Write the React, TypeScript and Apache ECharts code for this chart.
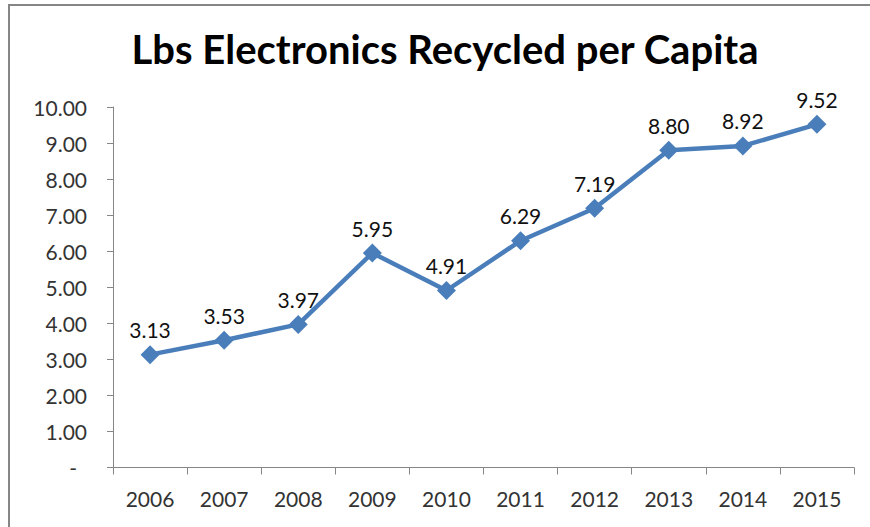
import React, { useEffect, useRef } from "react";
import * as echarts from "echarts";

const TITLE = "Lbs Electronics Recycled per Capita";
const years = ["2006", "2007", "2008", "2009", "2010", "2011", "2012", "2013", "2014", "2015"];
const lbsPerCapita = [3.13, 3.53, 3.97, 5.95, 4.91, 6.29, 7.19, 8.8, 8.92, 9.52];
const yMin = 0;
const yMax = 10;
const yStep = 1;

const FONT = "Lato, 'Noto Sans', sans-serif";
const BLUE = "#4A7EBB";
const GRAY = "#868686";

export default function App() {
  const ref = useRef<HTMLDivElement>(null);
  useEffect(() => {
    if (!ref.current) return;
    const chart = echarts.init(ref.current, null, { renderer: "svg" });
    chart.setOption({
      animation: false,
      backgroundColor: "#ffffff",
      textStyle: { fontFamily: FONT },
      graphic: [
        {
          type: "rect",
          shape: { x: 9, y: 5, width: 900, height: 600 },
          style: { fill: "none", stroke: GRAY, lineWidth: 2 },
          silent: true,
        },
        {
          type: "text",
          x: 445,
          y: 49,
          style: {
            text: TITLE,
            fontFamily: FONT,
            fontWeight: "bold",
            fontSize: 40,
            fill: "#000",
            textAlign: "center",
            textVerticalAlign: "middle",
          },
        },
      ],
      grid: { left: 113, right: 16, top: 107, bottom: 59.5, containLabel: false },
      xAxis: {
        type: "category",
        data: years,
        boundaryGap: true,
        axisLine: { show: true, lineStyle: { color: GRAY, width: 1 } },
        axisTick: { show: true, length: 7, alignWithLabel: false, lineStyle: { color: GRAY } },
        axisLabel: { color: "#333", fontFamily: FONT, fontSize: 21, margin: 20 },
        splitLine: { show: false },
      },
      yAxis: {
        type: "value",
        min: yMin,
        max: yMax,
        interval: yStep,
        axisLine: { show: true, lineStyle: { color: GRAY, width: 1 } },
        axisTick: { show: true, length: 6, lineStyle: { color: GRAY } },
        splitLine: { show: false },
        axisLabel: {
          color: "#333",
          fontFamily: FONT,
          fontSize: 21,
          margin: 26,
          formatter: (v: number) => (v === 0 ? "{d|-}" : v.toFixed(2)),
          rich: { d: { padding: [0, 10, 0, 0], fontSize: 21, fontFamily: FONT, color: "#333" } },
        },
      },
      series: [
        {
          type: "line",
          data: lbsPerCapita,
          symbol: "diamond",
          symbolSize: 19,
          lineStyle: { color: BLUE, width: 4.5 },
          itemStyle: { color: BLUE },
          label: {
            show: true,
            position: "top",
            distance: 5,
            color: "#111",
            fontFamily: FONT,
            fontSize: 21,
            formatter: (p: any) => Number(p.value).toFixed(2),
          },
        },
      ],
    });
    return () => chart.dispose();
  }, []);
  return (
    <div
      ref={ref}
      style={{ position: "fixed", left: 0, top: 0, width: 870, height: 527 }}
    />
  );
}
